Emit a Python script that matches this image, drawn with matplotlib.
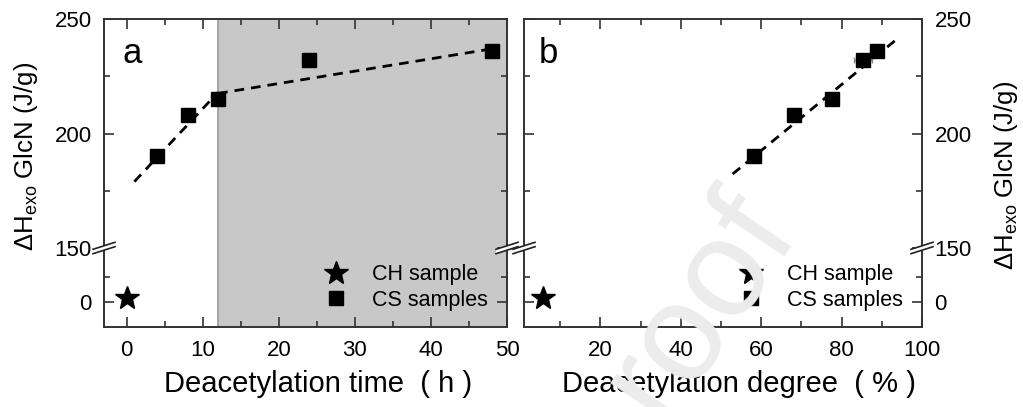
import matplotlib
matplotlib.use('Agg')
import matplotlib.pyplot as plt
from matplotlib.lines import Line2D
from matplotlib.patches import Polygon
from matplotlib.ticker import MultipleLocator, FixedLocator

plt.rcParams['font.family'] = ['Liberation Sans', 'DejaVu Sans']
plt.rcParams['mathtext.default'] = 'regular'

# CH (chitin) sample
ch_time = [0]
ch_dd = [5.7]
ch_dh = [4]

# CS samples
cs_time = [4, 8, 12, 24, 48]
cs_dd = [58.1, 68.2, 77.6, 85.4, 88.9]
cs_dd_err = [0, 0, 0, 2.2, 0]
cs_dh = [190, 208, 215, 232, 236]

# dashed guide lines, end points
fit1_time = [1.0, 12]
fit1_dh = [179, 218]
fit2_time = [12, 49]
fit2_dh = [217.5, 237.5]
fit_dd = [52.9, 94.3]
fit_dd_dh = [182.3, 242]

shade_from = 12

W, H = 1023, 407
fig = plt.figure(figsize=(W / 100, H / 100), dpi=100)

y_top, y_brk, y_bot = 19, 248, 327


def make_panel(x0, x1, labels_right=False):
    left = x0 / W
    width = (x1 - x0) / W
    up = fig.add_axes([left, 1 - y_brk / H, width, (y_brk - y_top) / H])
    low = fig.add_axes([left, 1 - y_bot / H, width, (y_bot - y_brk) / H], sharex=up)
    up.set_ylim(150, 250)
    low.set_ylim(-25, 54)
    up.spines['bottom'].set_visible(False)
    low.spines['top'].set_visible(False)
    up.yaxis.set_major_locator(MultipleLocator(50))
    up.yaxis.set_minor_locator(MultipleLocator(25))
    low.yaxis.set_major_locator(FixedLocator([0]))
    low.yaxis.set_minor_locator(FixedLocator([25]))
    for ax in (up, low):
        ax.tick_params(which='both', direction='in', left=True, right=True,
                       labelsize=16, pad=9, width=1.2, color='#333333')
        ax.tick_params(which='major', length=7)
        ax.tick_params(which='minor', length=4)
        if labels_right:
            ax.tick_params(labelleft=False, labelright=True)
        for s in ax.spines.values():
            s.set_linewidth(1.4)
            s.set_color('#333333')
    up.tick_params(which='both', top=True, bottom=False, labelbottom=False)
    low.tick_params(which='both', top=False, bottom=True)
    return up, low


def break_marks(xpix):
    yc = y_brk
    for xp in xpix:
        dx, dy, off = 11, 3.5, 2.2
        pts = [(xp - dx, yc + dy + off), (xp + dx, yc - dy + off),
               (xp + dx, yc - dy - off), (xp - dx, yc + dy - off)]
        pts = [(px / W, 1 - py / H) for px, py in pts]
        fig.add_artist(Polygon(pts, closed=True, facecolor='white', edgecolor='none',
                               transform=fig.transFigure, zorder=5))
        for a, b in ((pts[0], pts[1]), (pts[3], pts[2])):
            fig.add_artist(Line2D([a[0], b[0]], [a[1], b[1]], color='#222222', lw=1.2,
                                  transform=fig.transFigure, zorder=6))


square = dict(marker='s', ms=10.5, color='black', ls='none', zorder=4)
star = dict(marker='*', ms=18, color='black', ls='none', zorder=4)
dash = dict(color='black', lw=2, ls=(0, (3.5, 2.5)), zorder=3)
ylab = r'ΔH$_{exo}$ GlcN (J/g)'

# panel a
a_up, a_low = make_panel(104, 507)
for ax in (a_up, a_low):
    ax.axvspan(shade_from, 51, color='#c8c8c8', zorder=0, lw=0)
    ax.axvline(shade_from, color='#999999', lw=1.2, zorder=1)
a_up.plot(fit1_time, fit1_dh, **dash)
a_up.plot(fit2_time, fit2_dh, **dash)
a_up.plot(cs_time, cs_dh, **square)
a_low.plot(ch_time, ch_dh, **star)
a_low.set_xlim(-3, 50)
a_low.xaxis.set_major_locator(MultipleLocator(10))
a_low.xaxis.set_minor_locator(MultipleLocator(5))
a_low.set_xlabel('Deacetylation time  ( h )', fontsize=21, labelpad=7)
a_low.xaxis.label.set_x(0.53)
a_up.text(0.045, 0.81, 'a', transform=a_up.transAxes, fontsize=25)
fig.text(26 / W, 1 - 156 / H, ylab, rotation=90,
         fontsize=18.5, ha='center', va='center')
h1 = Line2D([], [], **star)
h2 = Line2D([], [], **square)
leg_kw = dict(loc='lower right', bbox_to_anchor=(1.0, -0.04), frameon=False,
              fontsize=15.5, handlelength=1.0, handletextpad=1.15, labelspacing=0.2)
a_low.legend([h1, h2], ['CH sample', 'CS samples'], **leg_kw)

# panel b
b_up, b_low = make_panel(524, 922, labels_right=True)
b_up.plot(fit_dd, fit_dd_dh, **dash)
b_up.errorbar(cs_dd, cs_dh, xerr=cs_dd_err, fmt='none', ecolor='#888888',
              elinewidth=1, capsize=2, zorder=3)
b_up.plot(cs_dd, cs_dh, **square)
b_low.plot(ch_dd, ch_dh, **star)
b_low.set_xlim(1, 100)
b_low.xaxis.set_major_locator(MultipleLocator(20))
b_low.xaxis.set_minor_locator(MultipleLocator(10))
b_low.set_xlabel('Deacetylation degree  ( % )', fontsize=21, labelpad=7)
b_low.xaxis.label.set_x(0.54)
b_up.text(0.038, 0.81, 'b', transform=b_up.transAxes, fontsize=25)
fig.text(1006 / W, 1 - 175 / H, ylab, rotation=90,
         fontsize=18.5, ha='center', va='center')
b_low.legend([h1, h2], ['CH sample', 'CS samples'], **leg_kw)

break_marks([104, 507, 524, 922])

# light watermark lying over the figure
fig.text(700 / W, 1 - 305 / H, 'roof', rotation=56, fontsize=100, color='#ececec',
         ha='center', va='center', zorder=10)

fig.savefig('out.png', dpi=100)
